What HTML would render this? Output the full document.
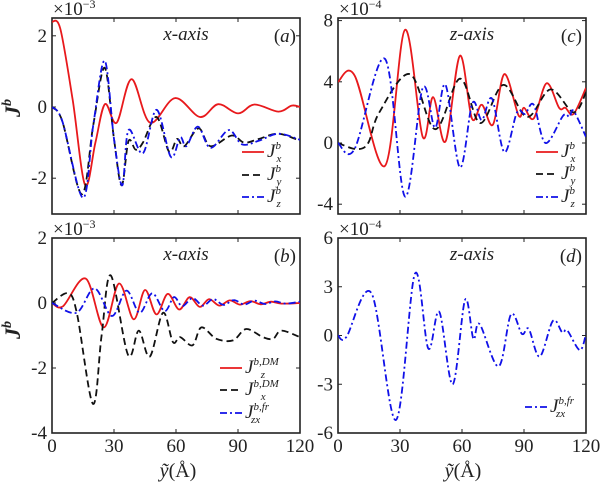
<!DOCTYPE html>
<html><head><meta charset="utf-8"><style>
body{margin:0;background:#fff}
svg text{font-family:"Liberation Serif","DejaVu Serif",serif}
.t{font-size:19px;fill:#222}
</style></head><body>
<svg id="c" width="602" height="484" viewBox="0 0 602 484"></svg>
<script>
// ---- data: panel (a), x-axis
const aJxX=[0,4,10,16,21,25.6,31.3,38.5,47.4,59.5,71.6,80.4,90,98,109.5,116,120];
const aJxY=[2.4,2.2,0.2,-2.19,-1.0,0.08,-0.44,0.78,-0.44,0.25,-0.28,0.08,-0.18,0.07,-0.13,0.04,0];
const aJyX=[0,5,14.4,20,25.5,30,33.7,37,40.5,44,50.6,56.6,60.5,64,71,76.7,87,93,100,109.5,120];
const aJyY=[0,-0.4,-2.45,-0.5,1.1,-0.9,-2.2,-0.96,-1.2,-1.0,-0.28,-1.25,-0.9,-1.1,-0.6,-1.1,-0.8,-1.0,-0.9,-0.75,-0.95];
const aJzX=[0,5,15,20,25.5,30,34,37,44,50.6,57.5,62,65,70.6,76.7,85.5,92,100,109.5,120];
const aJzY=[0,-0.4,-2.55,-0.5,1.3,-0.9,-2.2,-0.65,-1.3,-0.08,-1.4,-0.85,-1.1,-0.55,-1.15,-0.65,-1.05,-0.95,-0.75,-0.92];
// ---- panel (c), z-axis (x1e-4)
const cJxX=[0,8.1,22.7,32.4,41,46,52,59,64.8,69.6,75,80.5,87.4,90,94.7,100.9,107,110,114,120];
const cJxY=[4,4.4,-1.5,7.4,0.4,3.0,0.1,5.7,1.6,2.5,1.2,4.5,1.8,2.3,1.6,3.9,2.3,2.3,1.9,3.6];
const cJyX=[0,8.9,14.6,20,34.8,47,59,68.8,80,91.5,102.8,114,120];
const cJyY=[0,-0.4,0,2,4.5,0.9,4.2,1.3,3.8,1.7,3.5,2.0,3.3];
const cJzX=[0,8,22.7,32.4,41,47,52,59,65,69.6,74.5,80.5,86.6,90.5,94.7,100.4,109,112,114,120];
const cJzY=[0,-0.4,5.5,-3.5,3.6,1.0,3.8,-1.6,2.6,1.5,2.9,-0.6,2.0,1.9,2.5,0,1.8,1.7,2.1,0.4];
// ---- panel (b), x-axis
const bRX=[0,5.3,16.3,25,32.4,39.5,45,50.5,56,61.5,66.6,71.5,76,81,86,91,96,101,106,111,120];
const bRY=[0,-0.1,0.75,-0.75,0.6,-0.5,0.4,-0.35,0.28,-0.2,0.18,-0.12,0.12,-0.08,0.08,-0.05,0.06,-0.04,0.04,-0.02,0];
const bKX=[0,7.7,12,19.8,24,28.4,36.8,42,47.3,53.7,58.5,62,68,72.3,79.5,87.6,94,102,107,111,120];
const bKY=[0,0.3,-0.3,-3.1,-1.0,0.85,-1.6,-0.85,-1.65,-0.3,-1.2,-1.05,-1.3,-0.75,-1.1,-1.15,-0.8,-1.05,-1.1,-0.85,-1.05];
const bBX=[0,11.8,20.6,29,36,42.4,48.5,54.5,59,63,68,73,78,83,88,93,98,103,108,113,120];
const bBY=[0,-0.3,0.45,-0.4,0.38,-0.3,0.3,-0.25,0.18,-0.1,0.15,-0.08,0.12,-0.06,0.09,-0.05,0.07,-0.03,0.05,-0.02,0.04];
// ---- panel (d), z-axis
const dX=[0,4,16.2,28,37.2,43.7,49,55.5,61.5,65.5,68.5,77.7,83.7,89,92.3,97.6,104,108.5,111,117,120];
const dY=[0,-0.1,2.6,-5.2,3.8,-0.8,1.45,-3.0,2.2,-0.2,0.7,-1.9,1.3,0.1,0.4,-1.3,0.9,0.2,0.3,-0.9,0.1];
const xTicks=[0,30,60,90,120];

const NS="http://www.w3.org/2000/svg";
const svg=document.getElementById('c');
function mk(tag,attrs,parent){const e=document.createElementNS(NS,tag);for(const k in attrs)e.setAttribute(k,attrs[k]);(parent||svg).appendChild(e);return e;}

function panel(p){
  const g=mk('g',{});
  
  
  const sx=v=>p.L+(v/120)*(p.R-p.L);
  const sy=v=>p.y0-v*p.k;
  const fr=mk('rect',{x:p.L,y:p.T,width:p.R-p.L,height:p.B-p.T,fill:'none',stroke:'#222','stroke-width':1.6},g);
  
  
  xTicks.forEach(t=>{
    mk('line',{x1:sx(t),x2:sx(t),y1:p.B,y2:p.B-4,stroke:'#222','stroke-width':1},g);
    mk('line',{x1:sx(t),x2:sx(t),y1:p.T,y2:p.T+4,stroke:'#222','stroke-width':1},g);
    if(p.xl){const tx=mk('text',{x:sx(t),y:p.B+19,'text-anchor':'middle',class:'t'},g);tx.textContent=t;
      
      }
  });
  p.yt.forEach(t=>{
    mk('line',{x1:p.L,x2:p.L+4,y1:sy(t),y2:sy(t),stroke:'#222','stroke-width':1},g);
    mk('line',{x1:p.R,x2:p.R-4,y1:sy(t),y2:sy(t),stroke:'#222','stroke-width':1},g);
    const tx=mk('text',{x:p.L-5,y:sy(t)+6,'text-anchor':'end',class:'t'},g);tx.textContent=t<0?'-'+(-t):t;
    
    
  });
  const ex=mk('text',{x:p.L+1,y:p.T-3,class:'t','font-size':'15'},g);
  ex.innerHTML='×10<tspan dy="-7" font-size="12">'+p.exp+'</tspan>';
  
  
  const tt=mk('text',{x:(p.L+p.R)/2+10,y:p.T+22,'text-anchor':'middle',class:'t','font-style':'italic','font-size':'17'},g);
  tt.textContent=p.title;
  
  
  const lb=mk('text',{x:p.R-4,y:p.T+24,'text-anchor':'end',class:'t','font-size':'19'},g);
  lb.innerHTML='(<tspan font-style="italic">'+p.tag+'</tspan>)';
  
  
  const cp=mk('clipPath',{id:'cp'+p.tag},g);
  mk('rect',{x:p.L,y:p.T,width:p.R-p.L,height:p.B-p.T},cp);
  p.series.forEach((s,i)=>{
    const P=s.x.map((v,j)=>[sx(v),sy(s.y[j])]);
    let d='M'+P[0][0].toFixed(1)+','+P[0][1].toFixed(1);
    for(let j=0;j<P.length-1;j++){
      const p0=P[Math.max(0,j-1)],p1=P[j],p2=P[j+1],p3=P[Math.min(P.length-1,j+2)];
      const c1=[p1[0]+(p2[0]-p0[0])/6,p1[1]+(p2[1]-p0[1])/6];
      const c2=[p2[0]-(p3[0]-p1[0])/6,p2[1]-(p3[1]-p1[1])/6];
      d+='C'+c1.map(v=>v.toFixed(1))+' '+c2.map(v=>v.toFixed(1))+' '+p2.map(v=>v.toFixed(1));
    }
    const path=mk('path',{d:d,fill:'none',stroke:s.c,'stroke-width':1.8,'stroke-dasharray':s.dash||'','clip-path':'url(#cp'+p.tag+')'},g);
    
    
    const ly=p.legY[i];
    const ll=mk('line',{x1:p.legX,x2:p.legX+22,y1:ly,y2:ly,stroke:s.c,'stroke-width':1.8,'stroke-dasharray':s.dash||''},g);
    
    
    const lt=mk('text',{x:p.legX+25,y:ly+5,class:'t','font-style':'italic','font-size':'17'},g);
    lt.innerHTML='J<tspan dy="-8" font-size="11">'+s.sup+'</tspan><tspan dx="-'+(s.sup.length*4.5)+'" dy="13" font-size="11">'+s.sub+'</tspan>';
    
    
  });
}
const red='#e8191c',blu='#1010e8',blk='#111';
panel({name:'panel-a',tag:'a',L:52,R:300,T:18,B:214,y0:107,k:35.6,yt:[2,0,-2],exp:'−3',title:'x-axis',xl:false,
  legX:242,legY:[152,175,197],
  series:[{id:'jx',x:aJxX,y:aJxY,c:red,sup:'b',sub:'x'},{id:'jy',x:aJyX,y:aJyY,c:blk,dash:'7,4',sup:'b',sub:'y'},{id:'jz',x:aJzX,y:aJzY,c:blu,dash:'7,3,2,3',sup:'b',sub:'z'}]});
panel({name:'panel-c',tag:'c',L:338,R:586,T:18,B:214,y0:143,k:15.3,yt:[8,4,0,-4],exp:'−4',title:'z-axis',xl:false,
  legX:536,legY:[152,174,197],
  series:[{id:'jx',x:cJxX,y:cJxY,c:red,sup:'b',sub:'x'},{id:'jy',x:cJyX,y:cJyY,c:blk,dash:'7,4',sup:'b',sub:'y'},{id:'jz',x:cJzX,y:cJzY,c:blu,dash:'7,3,2,3',sup:'b',sub:'z'}]});
panel({name:'panel-b',tag:'b',L:52,R:300,T:238,B:433,y0:303,k:32.5,yt:[2,0,-2,-4],exp:'−3',title:'x-axis',xl:true,
  legX:220,legY:[368,390,413],
  series:[{id:'jz-dm',x:bRX,y:bRY,c:red,sup:'b,DM',sub:'z'},{id:'jx-dm',x:bKX,y:bKY,c:blk,dash:'7,4',sup:'b,DM',sub:'x'},{id:'jzx-fr',x:bBX,y:bBY,c:blu,dash:'7,3,2,3',sup:'b,fr',sub:'zx'}]});
panel({name:'panel-d',tag:'d',L:338,R:586,T:238,B:433,y0:335.5,k:16.25,yt:[6,3,0,-3,-6],exp:'−4',title:'z-axis',xl:true,
  legX:525,legY:[407],
  series:[{id:'jzx-fr',x:dX,y:dY,c:blu,dash:'7,3,2,3',sup:'b,fr',sub:'zx'}]});
[[20,108],[20,330]].forEach(([x,y])=>{
  const t=mk('text',{x:x,y:y,transform:'rotate(-90 '+x+' '+y+')','text-anchor':'middle','font-size':'22','font-style':'italic','font-weight':'bold',fill:'#222'});
  t.innerHTML='J<tspan dy="-9" font-size="14">b</tspan>';
  
  
});
[178,463].forEach(x=>{
  const t=mk('text',{x:x,y:477,'text-anchor':'middle','font-size':'20',fill:'#222'});
  t.innerHTML='<tspan font-style="italic">ỹ</tspan>(Å)';
  
  
});
</script>
</body></html>
